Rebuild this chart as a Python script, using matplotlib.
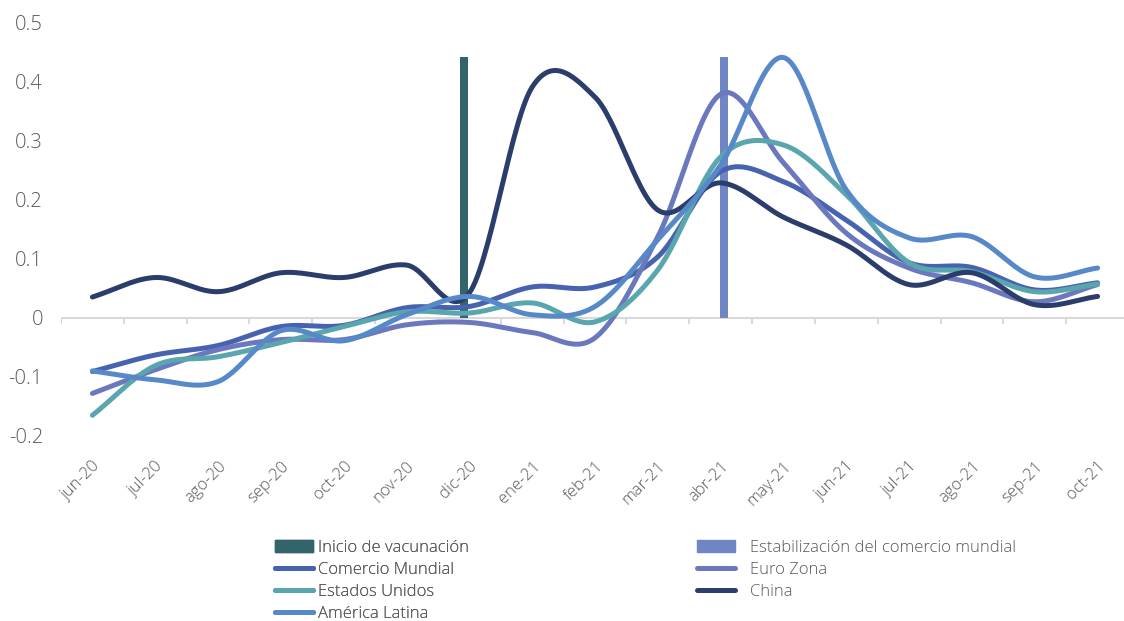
# Indicadores de comercio: curvas suavizadas por región, jun-20 a oct-21

import numpy as np
import matplotlib
matplotlib.use("Agg")
import matplotlib.pyplot as plt
from matplotlib.patches import Patch
from matplotlib.lines import Line2D

meses = ["jun-20", "jul-20", "ago-20", "sep-20", "oct-20", "nov-20", "dic-20",
         "ene-21", "feb-21", "mar-21", "abr-21", "may-21", "jun-21", "jul-21",
         "ago-21", "sep-21", "oct-21"]

comercio_mundial = [-0.091, -0.063, -0.047, -0.015, -0.013, 0.017, 0.019, 0.052,
                    0.052, 0.103, 0.247, 0.230, 0.165, 0.093, 0.085, 0.047, 0.059]
euro_zona = [-0.128, -0.088, -0.054, -0.037, -0.037, -0.012, -0.008, -0.025,
             -0.034, 0.137, 0.378, 0.262, 0.143, 0.084, 0.059, 0.027, 0.056]
estados_unidos = [-0.165, -0.081, -0.066, -0.042, -0.015, 0.010, 0.008, 0.025,
                  -0.007, 0.081, 0.272, 0.292, 0.208, 0.093, 0.078, 0.044, 0.057]
china = [0.035, 0.068, 0.044, 0.076, 0.068, 0.089, 0.042, 0.390, 0.373, 0.182,
         0.228, 0.170, 0.123, 0.056, 0.076, 0.022, 0.036]
america_latina = [-0.090, -0.105, -0.108, -0.022, -0.039, 0.005, 0.036, 0.005,
                  0.019, 0.132, 0.258, 0.440, 0.216, 0.135, 0.137, 0.069, 0.084]

# barras verticales de referencia
mes_vacunacion = "dic-20"
mes_estabilizacion = "abr-21"
altura_barras = 0.44

GRIS = "#595959"
COLORES = {
    "Comercio Mundial": "#4763b0",
    "Euro Zona": "#6b78bd",
    "Estados Unidos": "#59a6ae",
    "China": "#2b3d6b",
    "América Latina": "#5789c9",
}
COLOR_VAC = "#33636b"
COLOR_EST = "#6f85c4"


def suavizar(valores, pasos=30):
    # curva tipo Catmull-Rom, como la línea suavizada de Excel
    y = np.asarray(valores, dtype=float)
    n = len(y)
    xs, ys = [], []
    for i in range(n - 1):
        m0 = (y[i + 1] - y[i - 1]) / 2 if i > 0 else y[i + 1] - y[i]
        m1 = (y[i + 2] - y[i]) / 2 if i < n - 2 else y[i + 1] - y[i]
        t = np.linspace(0, 1, pasos, endpoint=False)
        h00 = 2 * t**3 - 3 * t**2 + 1
        h10 = t**3 - 2 * t**2 + t
        h01 = -2 * t**3 + 3 * t**2
        h11 = t**3 - t**2
        xs.append(i + t)
        ys.append(h00 * y[i] + h10 * m0 + h01 * y[i + 1] + h11 * m1)
    xs.append([n - 1])
    ys.append([y[-1]])
    return np.concatenate(xs), np.concatenate(ys)


def main():
    plt.rcParams["font.family"] = ["Open Sans", "DejaVu Sans"]
    plt.rcParams["font.weight"] = "light"

    fig = plt.figure(figsize=(11.24, 6.21), dpi=100)
    ax = fig.add_axes([61 / 1124, 1 - 436 / 621, 1068 / 1124, 414 / 621])

    x = np.arange(len(meses))
    ax.bar([meses.index(mes_vacunacion) - 0.08], [altura_barras], width=0.13,
           color=COLOR_VAC, zorder=2)
    ax.bar([meses.index(mes_estabilizacion) + 0.05], [altura_barras],
           width=0.13, color=COLOR_EST, zorder=2)

    series = [
        ("Comercio Mundial", comercio_mundial),
        ("Euro Zona", euro_zona),
        ("Estados Unidos", estados_unidos),
        ("China", china),
        ("América Latina", america_latina),
    ]
    for nombre, valores in series:
        xs, ys = suavizar(valores)
        ax.plot(xs, ys, color=COLORES[nombre], lw=3.6,
                solid_capstyle="round", zorder=3)

    ax.set_xlim(-0.5, len(meses) - 0.5)
    ax.set_ylim(-0.2, 0.5)
    ax.set_yticks([-0.2, -0.1, 0, 0.1, 0.2, 0.3, 0.4, 0.5])
    ax.set_yticklabels(["-0.2", "-0.1", "0", "0.1", "0.2", "0.3", "0.4", "0.5"])
    ax.tick_params(axis="y", length=0, pad=13, labelsize=14.5, labelcolor=GRIS)

    ax.set_xticks(x)
    ax.set_xticklabels(meses, rotation=45, ha="right", va="top",
                       rotation_mode="anchor")
    ax.tick_params(axis="x", length=0, pad=16, labelsize=12, labelcolor=GRIS)

    for lado in ["top", "right", "left", "bottom"]:
        ax.spines[lado].set_visible(False)

    # eje horizontal en cero con marcas entre categorías
    ax.axhline(0, color="#d9d9d9", lw=1.5, zorder=1)
    bordes = np.arange(len(meses) + 1) - 0.5
    ax.vlines(bordes, -0.011, 0, color="#d9d9d9", lw=1.5, zorder=1)

    def linea(nombre):
        return Line2D([], [], color=COLORES[nombre], lw=3.6,
                      solid_capstyle="round")

    h1 = [Patch(color=COLOR_VAC), linea("Comercio Mundial"),
          linea("Estados Unidos"), linea("América Latina")]
    l1 = ["Inicio de vacunación", "Comercio Mundial", "Estados Unidos",
          "América Latina"]
    h2 = [Patch(color=COLOR_EST), linea("Euro Zona"), linea("China")]
    l2 = ["Estabilización del comercio mundial", "Euro Zona", "China"]

    estilo = dict(frameon=False, fontsize=12, labelcolor=GRIS, borderpad=0,
                  handlelength=2.3, labelspacing=0.35, borderaxespad=0)
    leg1 = fig.legend(h1, l1, loc="upper left",
                      bbox_to_anchor=(275 / 1124, 1 - 540 / 621),
                      handletextpad=0.3, **estilo)
    fig.add_artist(leg1)
    fig.legend(h2, l2, loc="upper left",
               bbox_to_anchor=(697 / 1124, 1 - 540 / 621),
               handletextpad=0.9, **estilo)

    fig.savefig("out.png", dpi=100)


if __name__ == "__main__":
    main()
